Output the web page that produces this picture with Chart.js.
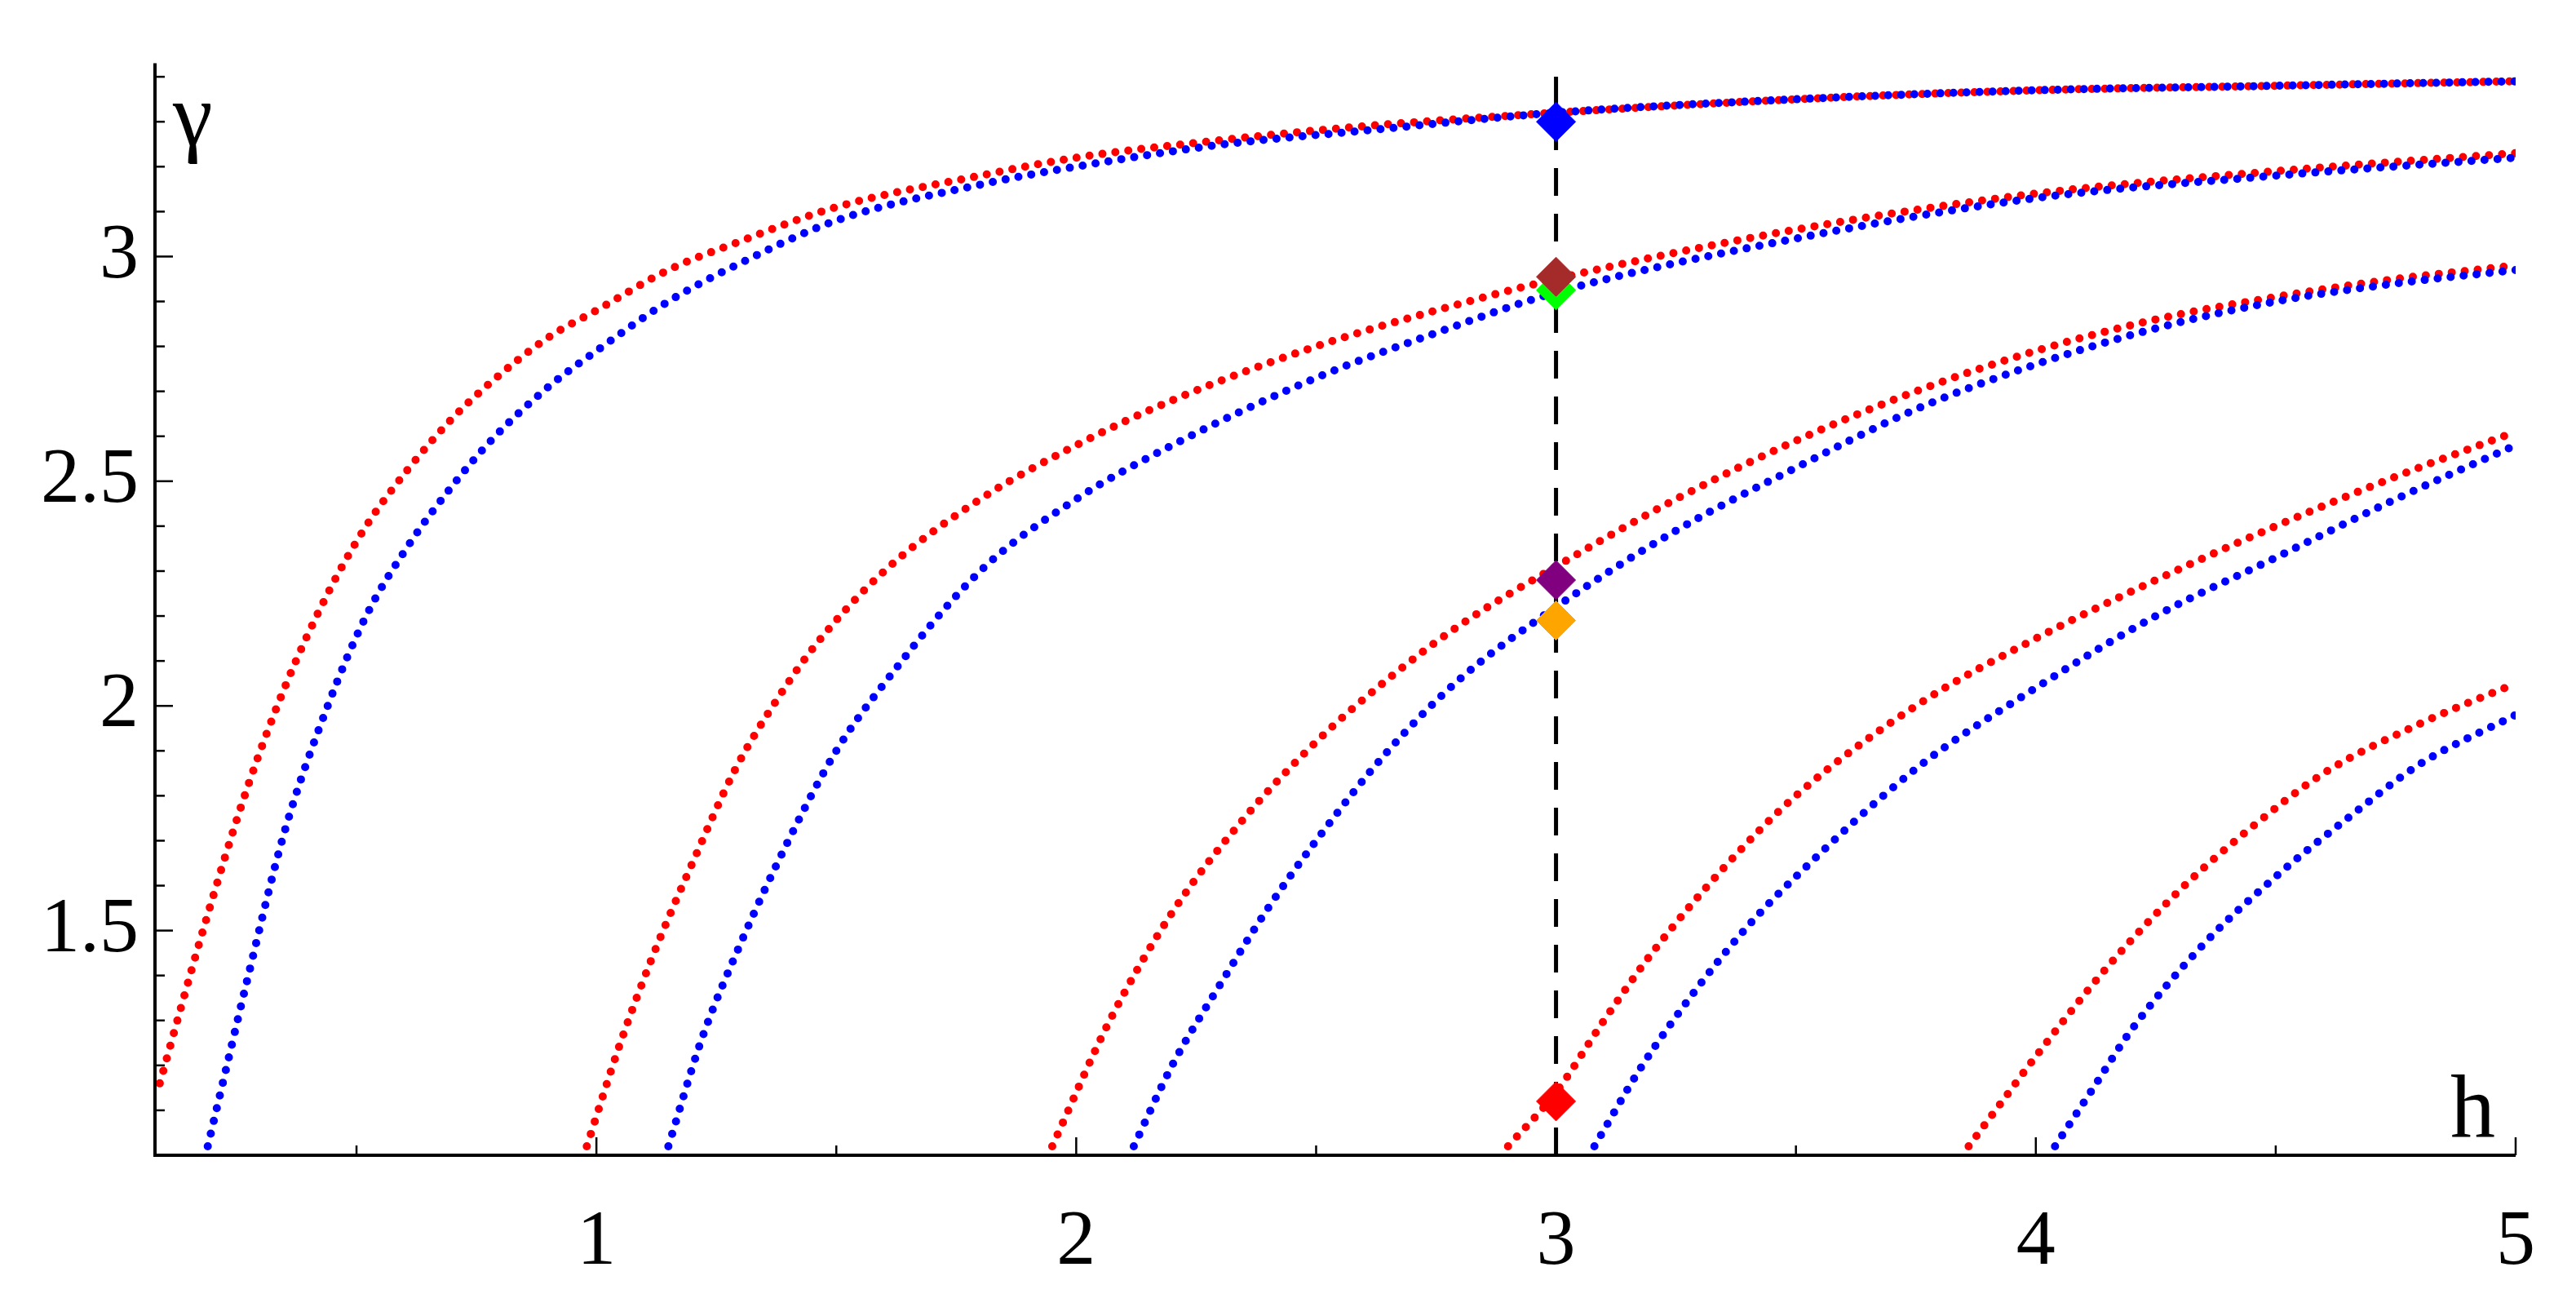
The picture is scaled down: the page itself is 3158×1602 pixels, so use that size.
<!DOCTYPE html>
<html>
<head>
<meta charset="utf-8">
<script src="https://cdn.jsdelivr.net/npm/chart.js@4/dist/chart.umd.min.js"></script>
<style>
  html, body { margin: 0; padding: 0; background: #fff; }
  #wrap { width: 3158px; height: 1602px; }
</style>
</head>
<body>
<div id="wrap"><canvas id="c"></canvas></div>
<script>
// values: [h, gamma]
const red1 = [[0.09,1.16],[0.18,1.5],[0.27,1.81],[0.35,2.04],[0.44,2.25],[0.52,2.4],[0.61,2.53],[0.7,2.64],[0.78,2.72],[0.9,2.82],[1.0,2.88],[1.15,2.97],[1.29,3.03],[1.5,3.11],[1.8,3.18],[2.0,3.22],[2.31,3.26],[2.6,3.29],[3.0,3.32],[3.5,3.35],[4.0,3.37],[4.5,3.38],[5.0,3.39]];
const blue1 = [[0.19,1.02],[0.23,1.2],[0.27,1.38],[0.35,1.72],[0.44,2.0],[0.52,2.2],[0.61,2.36],[0.7,2.49],[0.78,2.59],[0.9,2.71],[1.0,2.79],[1.15,2.9],[1.29,2.98],[1.5,3.08],[1.8,3.16],[2.0,3.2],[2.31,3.25],[2.6,3.28],[3.0,3.32],[3.5,3.35],[4.0,3.37],[4.5,3.38],[5.0,3.39]];
const red2 = [[0.98,1.02],[1.05,1.25],[1.12,1.45],[1.2,1.65],[1.29,1.86],[1.38,2.02],[1.46,2.14],[1.6,2.3],[1.8,2.46],[2.0,2.58],[2.2,2.68],[2.5,2.8],[2.75,2.88],[3.0,2.95],[3.5,3.06],[4.0,3.14],[4.5,3.19],[5.0,3.23]];
const blue2 = [[1.15,1.02],[1.22,1.26],[1.3,1.47],[1.4,1.7],[1.5,1.9],[1.6,2.05],[1.8,2.3],[2.0,2.46],[2.2,2.58],[2.5,2.73],[2.75,2.83],[3.0,2.92],[3.5,3.04],[4.0,3.13],[4.5,3.18],[5.0,3.22]];
const red3 = [[1.95,1.02],[2.07,1.3],[2.2,1.54],[2.35,1.75],[2.5,1.92],[2.65,2.06],[2.8,2.18],[3.0,2.31],[3.25,2.46],[3.5,2.59],[3.75,2.7],[4.0,2.79],[4.25,2.86],[4.5,2.91],[4.75,2.95],[5.0,2.98]];
const blue3 = [[2.12,1.02],[2.2,1.2],[2.3,1.38],[2.4,1.55],[2.5,1.7],[2.65,1.9],[2.8,2.06],[3.0,2.22],[3.25,2.39],[3.5,2.53],[3.75,2.66],[4.0,2.76],[4.25,2.84],[4.5,2.9],[4.75,2.94],[5.0,2.97]];
const red4 = [[2.9,1.02],[3.0,1.14],[3.1,1.3],[3.2,1.45],[3.35,1.64],[3.5,1.8],[3.75,2.0],[4.0,2.15],[4.25,2.28],[4.5,2.4],[4.75,2.51],[5.0,2.61]];
const blue4 = [[3.08,1.02],[3.18,1.2],[3.3,1.38],[3.4,1.51],[3.5,1.62],[3.75,1.86],[4.0,2.04],[4.25,2.2],[4.5,2.33],[4.75,2.46],[5.0,2.58]];
const red5 = [[3.86,1.02],[3.93,1.12],[4.0,1.22],[4.15,1.42],[4.3,1.59],[4.45,1.73],[4.6,1.85],[4.8,1.96],[5.0,2.05]];
const blue5 = [[4.04,1.02],[4.12,1.15],[4.2,1.28],[4.35,1.47],[4.5,1.62],[4.65,1.75],[4.8,1.87],[5.0,1.98]];

const markH = 3;
const markVals = [3.30, 2.955, 2.925, 2.28, 2.19, 1.12];
const markColors = ["#0000ff", "#a52a2a", "#00ff00", "#800080", "#ffa500", "#ff0000"];

const X_MIN = 0.08, X_MAX = 5, Y_MIN = 1.0, Y_MAX = 3.43;

function pts(a) { return a.map(p => ({ x: p[0], y: p[1] })); }

function dotted(arr, color, order) {
  return {
    data: pts(arr), showLine: true, borderColor: color, borderWidth: 10,
    borderDash: [0, 16], borderCapStyle: "round", cubicInterpolationMode: "monotone",
    pointRadius: 0, order: order
  };
}

const datasets = [];
markVals.forEach((v, i) => datasets.push({
  data: [{ x: markH, y: v }], pointStyle: "rectRot", pointRadius: 24,
  backgroundColor: markColors[i], borderColor: markColors[i], showLine: false, order: 0
}));
[blue1, blue2, blue3, blue4, blue5].forEach(a => datasets.push(dotted(a, "#0000ff", 1)));
[red1, red2, red3, red4, red5].forEach(a => datasets.push(dotted(a, "#ff0000", 2)));
datasets.push({
  data: [{ x: markH, y: Y_MIN }, { x: markH, y: 3.43 }], showLine: true,
  borderColor: "#000", borderWidth: 5, borderDash: [34, 22], pointRadius: 0, order: 3
});

// inward tick marks, axis lines and the axis letters
const axesPlugin = {
  id: "axesPlugin",
  afterDatasetsDraw(chart) {
    const ctx = chart.ctx, xs = chart.scales.x, ys = chart.scales.y;
    const a = chart.chartArea;
    ctx.save();
    ctx.strokeStyle = "#000";
    ctx.lineWidth = 4;
    ctx.beginPath();
    ctx.moveTo(a.left, a.top); ctx.lineTo(a.left, a.bottom); ctx.lineTo(a.right, a.bottom);
    ctx.stroke();
    ctx.lineWidth = 2.5;
    for (let i = 11; i <= 34; i++) {
      const py = ys.getPixelForValue(i / 10);
      const len = (i % 5 === 0) ? 22 : 12;
      ctx.beginPath(); ctx.moveTo(a.left, py); ctx.lineTo(a.left + len, py); ctx.stroke();
    }
    for (let i = 1; i <= 10; i++) {
      const px = xs.getPixelForValue(i / 2);
      const len = (i % 2 === 0) ? 22 : 12;
      ctx.beginPath(); ctx.moveTo(px, a.bottom); ctx.lineTo(px, a.bottom - len); ctx.stroke();
    }
    ctx.fillStyle = "#000";
    ctx.font = "110px 'Liberation Serif'";
    ctx.textAlign = "left";
    ctx.textBaseline = "alphabetic";
    ctx.fillText("γ", a.left + 22, a.top + 100);
    ctx.fillText("h", a.right - 80, a.bottom - 22);
    ctx.restore();
  }
};

new Chart(document.getElementById("c"), {
  type: "scatter",
  data: { datasets: datasets },
  plugins: [axesPlugin],
  options: {
    responsive: true, maintainAspectRatio: false, animation: false,
    layout: { padding: { top: 36, right: 30 } },
    plugins: { legend: { display: false }, tooltip: { enabled: false } },
    scales: {
      x: {
        type: "linear", min: X_MIN, max: X_MAX,
        afterFit: s => { s.height = 186; },
        grid: { display: false, drawTicks: false },
        border: { display: false },
        afterBuildTicks: s => { s.ticks = [1, 2, 3, 4, 5].map(v => ({ value: v })); },
        ticks: { padding: 50, color: "#000", font: { family: "Liberation Serif", size: 96 }, callback: v => String(v) }
      },
      y: {
        type: "linear", min: Y_MIN, max: Y_MAX,
        afterFit: s => { s.width = 190; },
        grid: { display: false, drawTicks: false },
        border: { display: false },
        afterBuildTicks: s => { s.ticks = [1.5, 2, 2.5, 3].map(v => ({ value: v })); },
        ticks: { padding: 20, color: "#000", font: { family: "Liberation Serif", size: 96 }, callback: v => String(v) }
      }
    }
  }
});
</script>
</body>
</html>
